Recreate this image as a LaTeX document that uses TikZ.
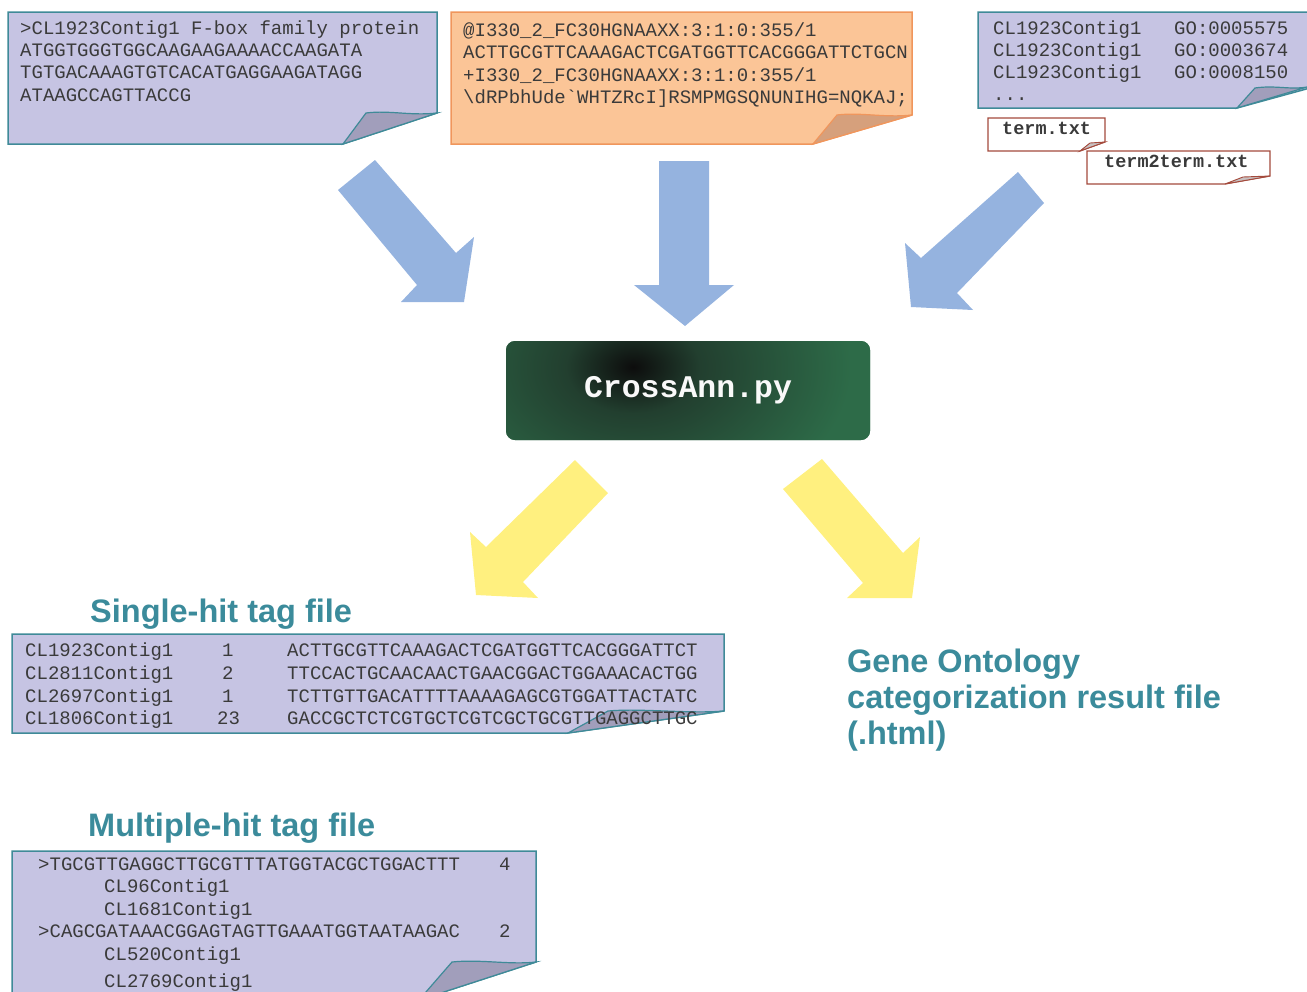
\documentclass[tikz,border=0pt]{standalone}
\usepackage{fontspec}
\setmainfont{Liberation Sans}
\newfontfamily\monofont{Liberation Mono}
\usetikzlibrary{calc}
\definecolor{lav}{HTML}{C6C4E3}
\definecolor{lavfold}{HTML}{A19EBB}
\definecolor{tealb}{HTML}{3F8A98}
\definecolor{orng}{HTML}{FBC597}
\definecolor{orngb}{HTML}{F0965C}
\definecolor{orngfold}{HTML}{D6A07C}
\definecolor{termb}{HTML}{A44A3C}
\definecolor{termfold}{HTML}{C8C0C0}
\definecolor{blarrow}{HTML}{95B3DF}
\definecolor{yarrow}{HTML}{FFF07F}
\definecolor{ggreen}{HTML}{2D6B48}
\definecolor{gmid}{HTML}{223F2F}
\definecolor{titlec}{HTML}{3B8B9B}
\definecolor{txtc}{HTML}{3A3A3A}
\pgfdeclareradialshading{darkspot}{\pgfpoint{0bp}{0bp}}{%
  color(0bp)=(black!95); color(4bp)=(gmid); color(13bp)=(ggreen); color(50bp)=(ggreen)}
\tikzset{
  mtext/.style={anchor=base west, inner sep=0pt, font=\monofont\fontsize{19}{22}\selectfont, text=txtc},
  btext/.style={anchor=base west, inner sep=0pt, font=\monofont\bfseries\fontsize{18.5}{22}\selectfont, text=txtc},
  ttext/.style={anchor=base west, inner sep=0pt, font=\bfseries\fontsize{32.5}{36}\selectfont, text=titlec},
  lavbox/.style={fill=lav, draw=tealb, line width=1.5pt, line join=miter},
  lavfoldst/.style={fill=lavfold, draw=tealb, line width=1.2pt},
  orbox/.style={fill=orng, draw=orngb, line width=1.5pt},
  orfoldst/.style={fill=orngfold, draw=orngb, line width=1.2pt},
  termbox/.style={fill=white, draw=termb, line width=1.2pt},
  termfoldst/.style={fill=termfold, draw=termb, line width=0.9pt},
  bluearrow/.style={fill=blarrow},
  yellowarrow/.style={fill=yarrow},
}
\begin{document}
\begin{tikzpicture}[x=1pt,y=-1pt]
\useasboundingbox (0,0) rectangle (1307,991);

% ---------- top-left box ----------
\draw[lavbox] (8,12) -- (437,12) -- (437,113) -- (343,144) -- (8,144) -- cycle;
\draw[lavfoldst] (366,113) .. controls (390,110) and (410,116) .. (437,113) -- (343,144) -- cycle;
\node[mtext] (tl1) at (20,34) {>CL1923Contig1 F-box family protein};
\node[mtext] (tl2) at (20,56) {ATGGTGGGTGGCAAGAAGAAAACCAAGATA};
\node[mtext] (tl3) at (20,78.5) {TGTGACAAAGTGTCACATGAGGAAGATAGG};
\node[mtext] (tl4) at (20,101) {ATAAGCCAGTTACCG};

% ---------- top-middle box ----------
\draw[orbox] (451,12) -- (912,12) -- (912,115) -- (813,144) -- (451,144) -- cycle;
\draw[orfoldst] (837,115) .. controls (860,112) and (885,118) .. (912,115) -- (813,144) -- cycle;
\node[mtext] (tm1) at (463,36) {@I330\_2\_FC30HGNAAXX:3:1:0:355/1};
\node[mtext] (tm2) at (463,58.5) {ACTTGCGTTCAAAGACTCGATGGTTCACGGGATTCTGCN};
\node[mtext] (tm3) at (463,81) {+I330\_2\_FC30HGNAAXX:3:1:0:355/1};
\node[mtext] (tm4) at (463,103.5) {\textbackslash dRPbhUde`WHTZRcI]RSMPMGSQNUNIHG=NQKAJ;};

% ---------- top-right box ----------
\draw[lavbox] (978,12) -- (1310,12) -- (1310,88) -- (1237,108) -- (978,108) -- cycle;
\draw[lavfoldst] (1255,88) .. controls (1275,85) and (1290,90) .. (1307,87) -- (1237,108) -- cycle;
\node[mtext] (tr1) at (993,34) {CL1923Contig1};
\node[mtext] (tr2) at (993,56) {CL1923Contig1};
\node[mtext] (tr3) at (993,78) {CL1923Contig1};
\node[mtext] (tr4) at (993,100) {...};
\node[mtext] (go1) at (1174,34) {GO:0005575};
\node[mtext] (go2) at (1174,56) {GO:0003674};
\node[mtext] (go3) at (1174,78) {GO:0008150};

% ---------- term files ----------
\draw[termbox] (988,118) -- (1105,118) -- (1105,142) -- (1080,151) -- (988,151) -- cycle;
\draw[termfoldst] (1090,143) -- (1105,142) -- (1080,151) -- cycle;
\node[btext] (term) at (1002,134) {term.txt};
\draw[termbox] (1087,151) -- (1270,151) -- (1270,176) -- (1225,184) -- (1087,184) -- cycle;
\draw[termfoldst] (1243,177) -- (1270,176) -- (1225,184) -- cycle;
\node[btext] (term2) at (1104,167) {term2term.txt};

% ---------- blue arrows ----------
\fill[bluearrow] (338,190) -- (375,160) -- (456,253) -- (474,237) -- (464,302) -- (401,302) -- (417,285) -- cycle;
\fill[bluearrow] (659,161) -- (709,161) -- (709,285) -- (734,285) -- (685,326) -- (634,285) -- (659,285) -- cycle;
\fill[bluearrow] (1018,172) -- (1044,203) -- (957,293) -- (973,310) -- (911,307) -- (905,243) -- (921,258) -- cycle;

% ---------- CrossAnn.py ----------
\node[rounded corners=9pt, minimum width=364pt, minimum height=99pt, fill=ggreen, inner sep=0pt,
      path picture={\shade[shading=darkspot]
         ($(path picture bounding box.north west)+(127,26)$) ellipse [x radius=420, y radius=290];},
      font=\monofont\bfseries\fontsize{31.5}{36}\selectfont, text=white!95!gray] (cross) at (688,390.5) {CrossAnn.py};

% ---------- yellow arrows ----------
\fill[yellowarrow] (575,460) -- (608,493) -- (523,582) -- (538,598) -- (476,595) -- (470,532) -- (486,547) -- cycle;
\fill[yellowarrow] (822,459) -- (783,489) -- (863,583) -- (847,598) -- (912,598) -- (920,537) -- (903,553) -- cycle;

% ---------- single-hit ----------
\node[ttext] (single) at (90,622) {Single-hit tag file};
\draw[lavbox] (12,634) -- (724,634) -- (724,711) -- (568,733) -- (12,733) -- cycle;
\draw[lavfoldst] (608,711) .. controls (640,708) and (690,714) .. (724,711) -- (568,733) -- cycle;
\node[mtext] (s1a) at (25,656) {CL1923Contig1};
\node[mtext] (s2a) at (25,679) {CL2811Contig1};
\node[mtext] (s3a) at (25,702) {CL2697Contig1};
\node[mtext] (s4a) at (25,724) {CL1806Contig1};
\node[mtext] (s1b) at (222,656) {1};
\node[mtext] (s2b) at (222,679) {2};
\node[mtext] (s3b) at (222,702) {1};
\node[mtext] (s4b) at (217,724) {23};
\node[mtext] (s1c) at (287,656) {ACTTGCGTTCAAAGACTCGATGGTTCACGGGATTCT};
\node[mtext] (s2c) at (287,679) {TTCCACTGCAACAACTGAACGGACTGGAAACACTGG};
\node[mtext] (s3c) at (287,702) {TCTTGTTGACATTTTAAAAGAGCGTGGATTACTATC};
\node[mtext] (s4c) at (287,724) {GACCGCTCTCGTGCTCGTCGCTGCGTTGAGGCTTGC};

% ---------- GO result ----------
\node[ttext] (gor1) at (847,672) {Gene Ontology};
\node[ttext] (gor2) at (847,708) {categorization result file};
\node[ttext] (gor3) at (847,744) {(.html)};

% ---------- multiple-hit ----------
\node[ttext] (multi) at (88,836) {Multiple-hit tag file};
\draw[lavbox] (12,851) -- (536,851) -- (536,962) -- (419,1000) -- (12,1000) -- cycle;
\draw[lavfoldst] (452,962) .. controls (480,959) and (510,965) .. (536,962) -- (419,1000) -- cycle;
\node[mtext] (m1) at (38,870) {>TGCGTTGAGGCTTGCGTTTATGGTACGCTGGACTTT};
\node[mtext] (m1n) at (499,870) {4};
\node[mtext] (m2) at (104,892) {CL96Contig1};
\node[mtext] (m3) at (104,915) {CL1681Contig1};
\node[mtext] (m4) at (38,937) {>CAGCGATAAACGGAGTAGTTGAAATGGTAATAAGAC};
\node[mtext] (m4n) at (499,937) {2};
\node[mtext] (m5) at (104,960) {CL520Contig1};
\node[mtext] (m6) at (104,987) {CL2769Contig1};
\end{tikzpicture}
\end{document}
